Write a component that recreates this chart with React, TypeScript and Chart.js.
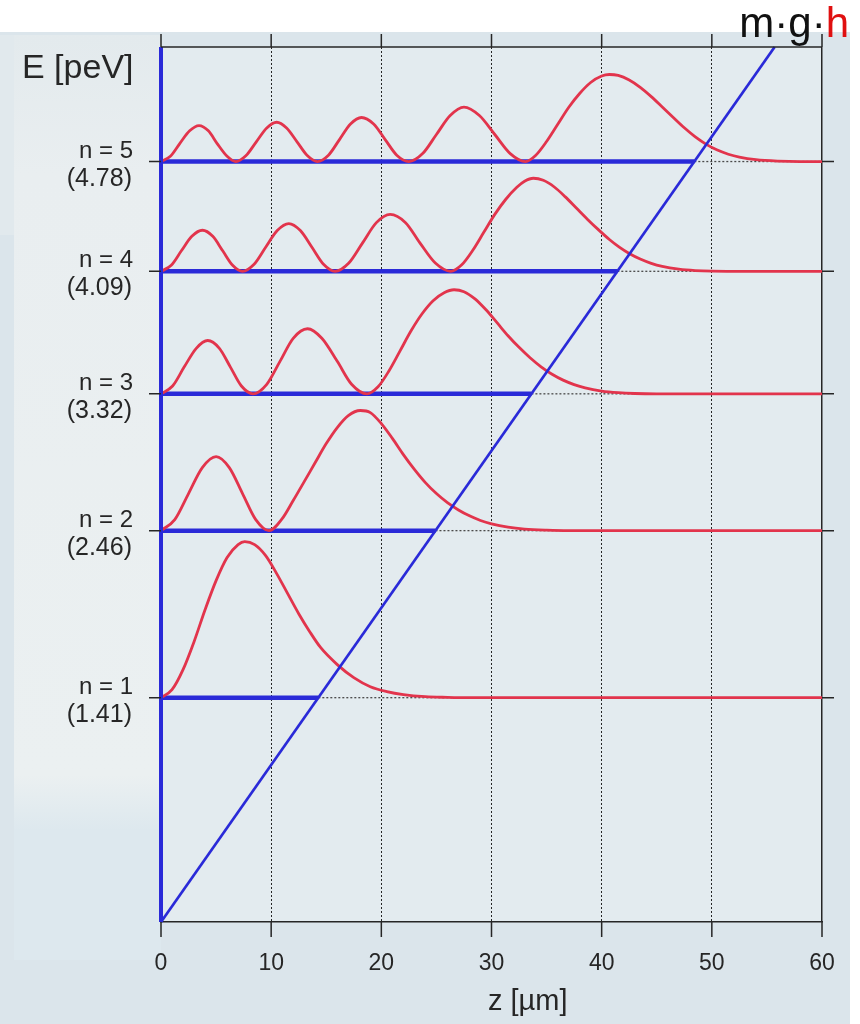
import { useEffect, useRef } from "react";
import { Chart, registerables } from "chart.js";

Chart.register(...registerables);

// Bound states of a neutron above a mirror in the Earth's gravitational field
const levelNames = ["n = 1", "n = 2", "n = 3", "n = 4", "n = 5"];
const levelEnergies = [1.41, 2.46, 3.32, 4.09, 4.78]; // peV

// Height axis (µm) and energy range (peV)
const zTicks = [0, 10, 20, 30, 40, 50, 60];
const zMax = 60;
const eMax = 5.5;

// Linear gravitational potential V = m·g·z
const potentialZ = [0, 55.7];
const potentialE = [0, 5.5];

// Probability densities |ψn(z)|², plotted above each level (in peV of the energy axis)
const z1 = [0, 1, 2, 3, 4, 5, 6, 7, 7.6, 8.5, 9.5, 10.5, 11.5, 12.5, 13.5, 14.5, 16, 17.5, 19, 20.5, 22, 24, 26, 28, 60];
const rho1 = [0, 0.05, 0.176, 0.352, 0.553, 0.736, 0.881, 0.962, 0.981, 0.962, 0.893, 0.78, 0.654, 0.528, 0.415, 0.314, 0.208, 0.126, 0.069, 0.038, 0.019, 0.006, 0.002, 0, 0];

const z2 = [0, 1.25, 2.5, 3.75, 5, 6.2, 7.4, 8.6, 9.8, 11, 12, 13, 14, 15, 16, 17, 18.1, 19, 20, 21, 22, 23, 24, 25, 26, 27, 28, 29, 30, 31.5, 33, 35, 37, 60];
const rho2 = [0, 0.069, 0.233, 0.396, 0.465, 0.396, 0.233, 0.069, 0, 0.075, 0.189, 0.308, 0.428, 0.547, 0.648, 0.723, 0.755, 0.742, 0.673, 0.58, 0.478, 0.385, 0.302, 0.233, 0.176, 0.13, 0.093, 0.064, 0.043, 0.022, 0.01, 0.003, 0, 0];

const z3 = [0, 1.05, 2.1, 3.2, 4.24, 5.3, 6.3, 7.3, 8.35, 9.6, 10.8, 12, 13.3, 14.6, 16, 17.3, 18.7, 19.7, 20.7, 21.7, 22.7, 23.7, 24.7, 25.7, 26.6, 27.5, 28.5, 29.5, 30.5, 31.5, 32.5, 33.5, 34.5, 35.5, 36.5, 37.5, 38.5, 40, 41.5, 43, 45, 60];
const rho3 = [0, 0.049, 0.168, 0.286, 0.335, 0.286, 0.168, 0.049, 0, 0.06, 0.204, 0.349, 0.409, 0.349, 0.204, 0.06, 0, 0.044, 0.145, 0.27, 0.396, 0.503, 0.585, 0.635, 0.654, 0.642, 0.597, 0.528, 0.447, 0.365, 0.292, 0.227, 0.17, 0.123, 0.086, 0.058, 0.037, 0.017, 0.007, 0.002, 0, 0];

const z4 = [0, 0.93, 1.85, 2.8, 3.76, 4.7, 5.6, 6.5, 7.4, 8.45, 9.5, 10.55, 11.6, 12.65, 13.7, 14.75, 15.8, 17.05, 18.3, 19.55, 20.8, 22.2, 23.5, 24.9, 26.3, 27.3, 28.3, 29.3, 30.3, 31.3, 32.3, 33, 33.8, 34.7, 35.7, 36.7, 37.7, 38.7, 39.7, 40.7, 41.6, 42.5, 43.5, 44.5, 45.5, 47, 48.5, 50, 52, 60];
const rho4 = [0, 0.038, 0.129, 0.22, 0.258, 0.22, 0.129, 0.038, 0, 0.044, 0.151, 0.256, 0.3, 0.256, 0.151, 0.044, 0, 0.052, 0.179, 0.306, 0.358, 0.306, 0.179, 0.052, 0, 0.041, 0.132, 0.245, 0.358, 0.453, 0.528, 0.566, 0.585, 0.572, 0.53, 0.468, 0.398, 0.328, 0.262, 0.2, 0.152, 0.112, 0.077, 0.05, 0.031, 0.014, 0.005, 0.001, 0, 0];

const z5 = [0, 0.85, 1.7, 2.6, 3.45, 4.3, 5.1, 6, 6.8, 7.7, 8.65, 9.6, 10.5, 11.4, 12.35, 13.3, 14.2, 15.2, 16.2, 17.2, 18.2, 19.3, 20.35, 21.4, 22.5, 23.75, 25, 26.25, 27.5, 28.9, 30.3, 31.7, 33.1, 34, 35, 36, 37, 38, 39, 40, 40.7, 41.5, 42.5, 43.5, 44.5, 45.5, 46.5, 47.5, 48.5, 49.5, 50.5, 51.5, 52.5, 54, 56, 58, 60];
const rho5 = [0, 0.033, 0.113, 0.193, 0.226, 0.193, 0.113, 0.033, 0, 0.036, 0.124, 0.211, 0.247, 0.211, 0.124, 0.036, 0, 0.04, 0.138, 0.236, 0.277, 0.236, 0.138, 0.04, 0, 0.05, 0.17, 0.289, 0.342, 0.289, 0.17, 0.05, 0, 0.038, 0.126, 0.233, 0.34, 0.428, 0.497, 0.538, 0.547, 0.541, 0.512, 0.466, 0.408, 0.343, 0.277, 0.212, 0.155, 0.108, 0.072, 0.046, 0.028, 0.012, 0.003, 0, 0];

const densityZ = [z1, z2, z3, z4, z5];
const densityRho = [rho1, rho2, rho3, rho4, rho5];

const FONT = '"Liberation Sans", Arial, Helvetica, sans-serif';
const INK = "#262626";
const BLUE = "#2a2ad8";
const RED = "#e2344c";

const points = (xs: number[], ys: number[], base = 0) =>
  xs.map((x, i) => ({ x, y: base + ys[i] }));

// classical turning point: where the potential reaches the level energy
const slope = (potentialE[1] - potentialE[0]) / (potentialZ[1] - potentialZ[0]);
const turningPoint = (e: number) => e / slope;

const framePlugin = {
  id: "frame",
  beforeDraw(chart: any) {
    const { ctx, chartArea: a, width, height } = chart;
    ctx.save();
    ctx.fillStyle = "#ffffff";
    ctx.fillRect(0, 0, width, height);
    // tinted panel behind the figure
    ctx.fillStyle = "#dbe5eb";
    ctx.fillRect(0, 32, 850, height - 32);
    // lighter band left of the axis
    const g = ctx.createLinearGradient(0, 35, 0, 960);
    g.addColorStop(0, "#e3eaed");
    g.addColorStop(0.15, "#e9eef0");
    g.addColorStop(0.8, "#ebf0f1");
    g.addColorStop(0.86, "#dde8ee");
    g.addColorStop(1, "#dde8ee");
    ctx.fillStyle = g;
    ctx.fillRect(14, 35, a.left - 14, 925);
    ctx.fillStyle = "#e1e9ed";
    ctx.fillRect(0, 35, 14, 200);
    // plot area
    ctx.fillStyle = "#e3ebef";
    ctx.fillRect(a.left, a.top, a.right - a.left, a.bottom - a.top);
    ctx.restore();
  },
  afterDatasetsDraw(chart: any) {
    const { ctx, chartArea: a, scales } = chart;
    const xs = scales.x;
    const ys = scales.y;
    ctx.save();
    ctx.strokeStyle = INK;
    ctx.lineWidth = 1.5;
    ctx.beginPath();
    ctx.moveTo(a.left, a.top);
    ctx.lineTo(a.right, a.top);
    ctx.stroke();
    for (const t of zTicks) {
      const px = xs.getPixelForValue(t);
      ctx.beginPath();
      ctx.moveTo(px, a.top);
      ctx.lineTo(px, a.top - 13);
      ctx.moveTo(px, a.bottom);
      ctx.lineTo(px, a.bottom + 15);
      ctx.stroke();
    }
    ctx.fillStyle = INK;
    ctx.textAlign = "right";
    ctx.textBaseline = "alphabetic";
    levelEnergies.forEach((e, i) => {
      const py = ys.getPixelForValue(e);
      ctx.beginPath();
      ctx.moveTo(a.left - 12, py);
      ctx.lineTo(a.left, py);
      ctx.moveTo(a.right, py);
      ctx.lineTo(a.right + 12, py);
      ctx.stroke();
      ctx.font = `24px ${FONT}`;
      ctx.fillText(levelNames[i], 133, py - 4);
      ctx.font = `25px ${FONT}`;
      ctx.fillText(`(${e.toFixed(2)})`, 132, py + 24);
    });
    ctx.textAlign = "left";
    ctx.font = `34px ${FONT}`;
    ctx.fillText("E [peV]", 22, 78);
    ctx.font = `29px ${FONT}`;
    ctx.fillText("z [µm]", 488, 1010);

    // logo
    ctx.font = `42px ${FONT}`;
    ctx.textAlign = "right";
    const right = 849;
    const hw = ctx.measureText("h").width;
    ctx.fillStyle = "#e01010";
    ctx.fillText("h", right, 37);
    ctx.fillStyle = "#111111";
    ctx.fillText("m·g·", right - hw, 37);
    ctx.restore();
  },
};

export default function App() {
  const ref = useRef<HTMLCanvasElement>(null);

  useEffect(() => {
    const datasets: any[] = [];

    levelEnergies.forEach((e, i) => {
      const zt = turningPoint(e);
      // thin dotted continuation of the level into the forbidden region
      datasets.push({
        data: [{ x: zt, y: e }, { x: zMax, y: e }],
        borderColor: "#4a4a4a",
        borderWidth: 1.3,
        borderDash: [2, 2],
        pointRadius: 0,
        order: 5,
      });
      // level inside the classically allowed region
      datasets.push({
        data: [{ x: 0, y: e }, { x: zt, y: e }],
        borderColor: BLUE,
        borderWidth: 4.5,
        pointRadius: 0,
        clip: false,
        order: 4,
      });
      // probability density
      datasets.push({
        data: points(densityZ[i], densityRho[i], e),
        borderColor: RED,
        borderWidth: 2.8,
        pointRadius: 0,
        cubicInterpolationMode: "monotone",
        order: 3,
      });
    });

    // mirror at z = 0
    datasets.push({
      data: [{ x: 0, y: 0 }, { x: 0, y: eMax }],
      borderColor: BLUE,
      borderWidth: 4,
      pointRadius: 0,
      clip: false,
      order: 2,
    });
    // gravitational potential
    datasets.push({
      data: points(potentialZ, potentialE),
      borderColor: BLUE,
      borderWidth: 2.7,
      pointRadius: 0,
      clip: false,
      order: 1,
    });

    const chart = new Chart(ref.current as HTMLCanvasElement, {
      type: "line",
      data: { datasets },
      options: {
        animation: false,
        responsive: false,
        maintainAspectRatio: false,
        layout: { padding: { left: 161, top: 47, right: 38, bottom: 0 } },
        plugins: { legend: { display: false }, tooltip: { enabled: false } },
        scales: {
          x: {
            type: "linear",
            min: 0,
            max: zMax,
            afterBuildTicks: (s: any) => {
              s.ticks = zTicks.map((v) => ({ value: v }));
            },
            afterFit: (s: any) => {
              s.height = 102;
            },
            grid: {
              color: INK,
              lineWidth: (c: any) => (c.tick && c.tick.value === zMax ? 1.5 : 1),
              drawTicks: true,
              tickLength: 28,
              tickColor: "rgba(0,0,0,0)",
            },
            border: {
              display: true,
              color: INK,
              width: 1.5,
              dash: (c: any) => (c.tick && c.tick.value === zMax ? [] : [2, 2]),
            },
            ticks: {
              color: INK,
              font: { family: FONT, size: 23 },
              padding: 0,
              maxRotation: 0,
            },
          },
          y: { type: "linear", min: 0, max: eMax, display: false },
        },
      } as any,
      plugins: [framePlugin],
    });
    return () => chart.destroy();
  }, []);

  return (
    <div style={{ position: "absolute", left: 0, top: 0, width: 860, height: 1024 }}>
      <canvas ref={ref} width={860} height={1024} style={{ display: "block", width: 860, height: 1024 }} />
    </div>
  );
}
